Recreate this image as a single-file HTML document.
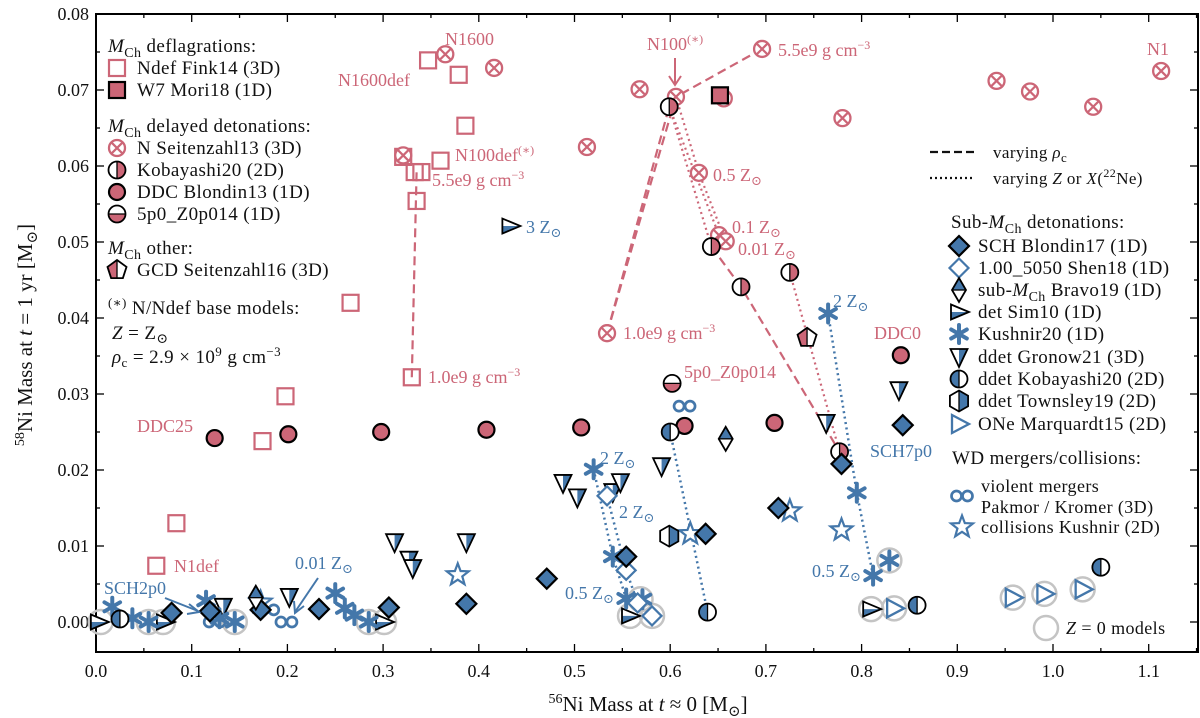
<!DOCTYPE html>
<html><head><meta charset="utf-8">
<style>
html,body{margin:0;padding:0;background:#fff;}
svg{display:block;font-family:"Liberation Serif","DejaVu Serif",serif;}
.pk{fill:#cc6677;}
.bl{fill:#4477aa;}
#annot text{font-size:18px;}
</style></head>
<body>
<svg id="chart" width="1200" height="718" viewBox="0 0 1200 718" xmlns="http://www.w3.org/2000/svg">
<defs id="defs"></defs>
<g id="frame"></g>
<g id="lines"></g>
<g id="marks"></g>
<g id="annot">
<text x="445" y="45" class="pk">N1600</text>
<text x="338" y="86" class="pk">N1600def</text>
<text x="455" y="161" class="pk">N100def<tspan dy="-7" font-size="12">(∗)</tspan></text>
<text x="432" y="186" class="pk">5.5e9 g cm<tspan dy="-7" font-size="12">−3</tspan></text>
<text x="428" y="383" class="pk">1.0e9 g cm<tspan dy="-7" font-size="12">−3</tspan></text>
<text x="647" y="50" class="pk">N100<tspan dy="-7" font-size="12">(∗)</tspan></text>
<line x1="675" y1="58" x2="675" y2="84" stroke="#cc6677" stroke-width="2"/>
<path d="M669 76 L675 85 L681 76" fill="none" stroke="#cc6677" stroke-width="2"/>
<text x="778" y="56" class="pk">5.5e9 g cm<tspan dy="-7" font-size="12">−3</tspan></text>
<text x="713" y="181" class="pk">0.5 Z<tspan dy="4" font-size="13">⊙</tspan></text>
<text x="732" y="233" class="pk">0.1 Z<tspan dy="4" font-size="13">⊙</tspan></text>
<text x="738" y="255" class="pk">0.01 Z<tspan dy="4" font-size="13">⊙</tspan></text>
<text x="623" y="339" class="pk">1.0e9 g cm<tspan dy="-7" font-size="12">−3</tspan></text>
<text x="684" y="378" class="pk">5p0_Z0p014</text>
<text x="874" y="339" class="pk">DDC0</text>
<text x="1147" y="55" class="pk">N1</text>
<text x="137" y="432" class="pk">DDC25</text>
<text x="174" y="572" class="pk">N1def</text>
<text x="526" y="233" class="bl">3 Z<tspan dy="4" font-size="13">⊙</tspan></text>
<text x="833" y="307" class="bl">2 Z<tspan dy="4" font-size="13">⊙</tspan></text>
<text x="870" y="457" class="bl">SCH7p0</text>
<text x="104" y="594" class="bl">SCH2p0</text>
<path d="M165 598 L198 611" stroke="#4477aa" stroke-width="2" fill="none"/>
<path d="M189 604 L199 612 L187 614" stroke="#4477aa" stroke-width="2" fill="none"/>
<text x="295" y="569" class="bl">0.01 Z<tspan dy="4" font-size="13">⊙</tspan></text>
<path d="M318 578 L295 612" stroke="#4477aa" stroke-width="2" fill="none"/>
<path d="M294 601 L295 613 L304 606" stroke="#4477aa" stroke-width="2" fill="none"/>
<text x="600" y="464" class="bl">2 Z<tspan dy="4" font-size="13">⊙</tspan></text>
<text x="619" y="518" class="bl">2 Z<tspan dy="4" font-size="13">⊙</tspan></text>
<text x="565" y="599" class="bl">0.5 Z<tspan dy="4" font-size="13">⊙</tspan></text>
<text x="812" y="577" class="bl">0.5 Z<tspan dy="4" font-size="13">⊙</tspan></text>
</g>
<g id="legend" font-size="19" fill="#111"></g>
</svg>
<script>
// ---- data ----
const ndefX=[0.347,0.379,0.386,0.321,0.333,0.340,0.360,0.335,0.330,0.266,0.198,0.174,0.084,0.063];
const ndefY=[0.0739,0.0720,0.0653,0.0612,0.0592,0.0592,0.0607,0.0554,0.0322,0.0420,0.0297,0.0238,0.0130,0.0074];
const w7X=[0.652], w7Y=[0.0693];
const nX=[0.365,0.416,0.321,0.696,0.568,0.606,0.513,0.780,0.630,0.651,0.658,0.534,0.656,0.941,0.976,1.042,1.113];
const nY=[0.0747,0.0729,0.0614,0.0754,0.0701,0.0691,0.0625,0.0663,0.0591,0.0509,0.0501,0.0380,0.0689,0.0712,0.0698,0.0678,0.0725];
const kobX=[0.599,0.643,0.674,0.725,0.777], kobY=[0.0678,0.0494,0.0441,0.0460,0.0224];
const ddcX=[0.124,0.201,0.298,0.408,0.507,0.615,0.709,0.841], ddcY=[0.0242,0.0247,0.0250,0.0253,0.0256,0.0258,0.0262,0.0351];
const p5X=[0.602], p5Y=[0.0314];
const gcdX=[0.743], gcdY=[0.0374];
const schX=[0.079,0.119,0.172,0.233,0.306,0.387,0.471,0.554,0.637,0.713,0.779,0.843];
const schY=[0.0012,0.0014,0.0016,0.0017,0.0019,0.0024,0.0057,0.0086,0.0116,0.0150,0.0208,0.0259];
const shenX=[0.534,0.554,0.566,0.581], shenY=[0.0166,0.0068,0.0025,0.0008];
const bravoX=[0.167,0.658], bravoY=[0.0032,0.0241];
const simX=[0.003,0.072,0.301,0.558,0.810,0.433], simY=[0,0,0,0.0008,0.0017,0.0521];
const kushX=[0.017,0.038,0.055,0.115,0.129,0.145,0.250,0.260,0.270,0.285,0.520,0.540,0.554,0.571,0.765,0.795,0.812,0.829];
const kushY=[0.0020,0.0005,0,0.0028,0.0005,0,0.0038,0.0018,0.0009,0,0.0201,0.0086,0.0031,0.0030,0.0406,0.0170,0.0061,0.0081];
const gronX=[0.133,0.202,0.312,0.327,0.331,0.387,0.488,0.503,0.540,0.548,0.591,0.763,0.839];
const gronY=[0.0020,0.0033,0.0105,0.0082,0.0071,0.0105,0.0183,0.0164,0.0171,0.0184,0.0205,0.0262,0.0305];
const kobBX=[0.025,0.600,0.639,0.858,1.050], kobBY=[0.0004,0.0250,0.0013,0.0022,0.0072];
const townX=[0.599], townY=[0.0113];
const oneX=[0.834,0.958,0.991,1.031], oneY=[0.0018,0.0032,0.0037,0.0043];
const vmX=[0.124,0.180,0.199,0.615], vmY=[0.0000,0.0016,0.0000,0.0284];
const colX=[0.172,0.378,0.621,0.725,0.779], colY=[0.0026,0.0062,0.0116,0.0146,0.0121];
const z0X=[0.005,0.055,0.070,0.145,0.285,0.301,0.558,0.569,0.581,0.810,0.834,0.829,0.958,0.991,1.031];
const z0Y=[0,0,0,0,0,0,0.0008,0.003,0.0008,0.0017,0.0018,0.0081,0.0032,0.0037,0.0043];
// lines
const lnNdefX=[0.330,0.335], lnNdefY=[0.0322,0.0592];
const lnNX=[0.534,0.606,0.696], lnNY=[0.0380,0.0691,0.0754];
const lnKobX=[0.534,0.599], lnKobY=[0.0380,0.0678];
const lnKob2X=[0.643,0.674,0.777], lnKob2Y=[0.0494,0.0441,0.0224];
const dtN1X=[0.606,0.630,0.658], dtN1Y=[0.0691,0.0591,0.0501];
const dtN2X=[0.599,0.651], dtN2Y=[0.0678,0.0509];
const dtKobX=[0.599,0.643], dtKobY=[0.0678,0.0494];
const dtKob3X=[0.725,0.777], dtKob3Y=[0.0460,0.0224];
const dtB1X=[0.765,0.795,0.812], dtB1Y=[0.0406,0.0170,0.0061];
const dtB2X=[0.520,0.540,0.554], dtB2Y=[0.0201,0.0086,0.0031];
const dtB3X=[0.534,0.554,0.566], dtB3Y=[0.0166,0.0068,0.0025];
const dtB4X=[0.600,0.639], dtB4Y=[0.0250,0.0013];
const xTicks=["0.0","0.1","0.2","0.3","0.4","0.5","0.6","0.7","0.8","0.9","1.0","1.1"];
const yTicks=["0.00","0.01","0.02","0.03","0.04","0.05","0.06","0.07","0.08"];

// ---- scales ----
const L=96,R=1198,T=14,B=652;
const X=v=>L+v*957, Y=v=>622-v*7600;
const NS="http://www.w3.org/2000/svg";
const PK="#cc6677", BL="#4477aa";
let cid=0;
function el(tag,attrs,parent){const e=document.createElementNS(NS,tag);for(const k in attrs)e.setAttribute(k,attrs[k]);parent.appendChild(e);return e;}
const frame=document.getElementById('frame'), marks=document.getElementById('marks'), lines=document.getElementById('lines'), defs=document.getElementById('defs'), leg=document.getElementById('legend');

// frame & ticks
el('rect',{x:L,y:T,width:R-L,height:B-T,fill:'none',stroke:'#000','stroke-width':2},frame);
for(let i=0;i<=23;i++){const v=i*0.05;const px=X(v);if(px>R)break;const len=i%2?4:8;
 el('line',{x1:px,y1:B,x2:px,y2:B-len,stroke:'#000','stroke-width':1.3},frame);
 el('line',{x1:px,y1:T,x2:px,y2:T+len,stroke:'#000','stroke-width':1.3},frame);}
xTicks.forEach((t,i)=>{const tx=el('text',{x:X(i*0.1),y:677,'text-anchor':'middle','font-size':18,fill:'#111'},frame);tx.textContent=t;
 
 });
for(let i=-0;i<=16;i++){const py=Y(i*0.005);const len=i%2?4:8;
 el('line',{x1:L,y1:py,x2:L+len,y2:py,stroke:'#000','stroke-width':1.3},frame);
 el('line',{x1:R,y1:py,x2:R-len,y2:py,stroke:'#000','stroke-width':1.3},frame);}
yTicks.forEach((t,i)=>{const tx=el('text',{x:89,y:Y(i*0.01)+6,'text-anchor':'end','font-size':18,fill:'#111'},frame);tx.textContent=t;
 
 });
{const t=el('text',{x:648,y:711,'text-anchor':'middle','font-size':21,fill:'#111'},frame);
 t.innerHTML='<tspan dy="-8" font-size="14">56</tspan><tspan dy="8">Ni Mass at </tspan><tspan font-style="italic">t</tspan> ≈ 0 [M<tspan dy="5" font-size="15">⊙</tspan><tspan dy="-5">]</tspan>';
 
 
 const u=el('text',{x:0,y:0,'text-anchor':'middle','font-size':21,fill:'#111',transform:'translate(32,335) rotate(-90)'},frame);
 u.innerHTML='<tspan dy="-8" font-size="14">58</tspan><tspan dy="8">Ni Mass at </tspan><tspan font-style="italic">t</tspan> = 1 yr [M<tspan dy="5" font-size="15">⊙</tspan><tspan dy="-5">]</tspan>';
 
 }

// lines
function poly(xs,ys,color,dash,w){const pts=xs.map((x,i)=>X(x)+','+Y(ys[i])).join(' ');
 const p=el('polyline',{points:pts,fill:'none',stroke:color,'stroke-width':w||2.2,'stroke-dasharray':dash},lines);
 
 }
const DASH='9,5', DOT='2,3.5';
poly(lnNdefX,lnNdefY,PK,DASH);poly(lnNX,lnNY,PK,DASH);poly(lnKobX,lnKobY,PK,DASH);poly(lnKob2X,lnKob2Y,PK,DASH);
poly(dtN1X,dtN1Y,PK,DOT);poly(dtN2X,dtN2Y,PK,DOT);poly(dtKobX,dtKobY,PK,DOT);poly(dtKob3X,dtKob3Y,PK,DOT);
poly(dtB1X,dtB1Y,BL,DOT,2.5);poly(dtB2X,dtB2Y,BL,DOT,2.5);poly(dtB3X,dtB3Y,BL,DOT,2.5);poly(dtB4X,dtB4Y,BL,DOT,2.5);

// shape helpers
function circD(cx,cy,r){return `M${cx-r} ${cy} a${r} ${r} 0 1 0 ${2*r} 0 a${r} ${r} 0 1 0 ${-2*r} 0Z`;}
function polyD(pts){return 'M'+pts.map(p=>p[0]+' '+p[1]).join(' L')+'Z';}
function regD(cx,cy,r,n,a0){const p=[];for(let k=0;k<n;k++){const a=a0+k*2*Math.PI/n;p.push([cx+r*Math.cos(a),cy+r*Math.sin(a)]);}return polyD(p);}
function half(g,d,cx,cy,side,color,divider){
 el('path',{d:d,fill:'#fff'},g);
 const id='c'+(cid++);const cp=el('clipPath',{id:id},defs);
 let r={x:cx-20,y:cy-20,width:40,height:40};
 if(side==='L')r={x:cx-20,y:cy-20,width:20,height:40};
 if(side==='R')r={x:cx,y:cy-20,width:20,height:40};
 if(side==='T')r={x:cx-20,y:cy-20,width:40,height:20};
 if(side==='B')r={x:cx-20,y:cy,width:40,height:20};
 el('rect',r,cp);
 el('path',{d:d,fill:color,'clip-path':`url(#${id})`},g);
 if(divider){if(side==='L'||side==='R')el('line',{x1:cx,y1:cy-divider,x2:cx,y2:cy+divider,stroke:'#000','stroke-width':1.3},g);
  else el('line',{x1:cx-divider,y1:cy,x2:cx+divider,y2:cy,stroke:'#000','stroke-width':1.3},g);}
 el('path',{d:d,fill:'none',stroke:'#000','stroke-width':1.8},g);}
function mk(type,cx,cy,parent){
 const g=el('g',{},parent);
 switch(type){
 case 'z0':el('circle',{cx,cy,r:12,fill:'none',stroke:'#c4c4c4','stroke-width':2.5},g);break;
 case 'sqO':el('rect',{x:cx-8,y:cy-8,width:16,height:16,fill:'none',stroke:PK,'stroke-width':2.2},g);break;
 case 'sqF':el('rect',{x:cx-8,y:cy-8,width:16,height:16,fill:PK,stroke:'#000','stroke-width':2.2},g);break;
 case 'otimes':el('circle',{cx,cy,r:8,fill:'#fff',stroke:PK,'stroke-width':2.3},g);
  el('path',{d:`M${cx-5.3} ${cy-5.3}L${cx+5.3} ${cy+5.3}M${cx+5.3} ${cy-5.3}L${cx-5.3} ${cy+5.3}`,stroke:PK,'stroke-width':2.2},g);break;
 case 'kob':half(g,circD(cx,cy,8.5),cx,cy,'R',PK,8.5);break;
 case 'kobB':half(g,circD(cx,cy,8.5),cx,cy,'L',BL,8.5);break;
 case 'p5':half(g,circD(cx,cy,8.5),cx,cy,'B',PK,8.5);break;
 case 'ddc':el('circle',{cx,cy,r:8,fill:PK,stroke:'#000','stroke-width':2.2},g);break;
 case 'gcd':half(g,regD(cx,cy,10,5,-Math.PI/2),cx,cy,'L',PK,9);break;
 case 'sch':el('path',{d:polyD([[cx,cy-10],[cx+10,cy],[cx,cy+10],[cx-10,cy]]),fill:BL,stroke:'#000','stroke-width':2.2},g);break;
 case 'shen':el('path',{d:polyD([[cx,cy-9.5],[cx+9.5,cy],[cx,cy+9.5],[cx-9.5,cy]]),fill:'#fff',stroke:BL,'stroke-width':2.2},g);break;
 case 'bravo':half(g,polyD([[cx,cy-12],[cx+7,cy],[cx,cy+12],[cx-7,cy]]),cx,cy,'T',BL,7);break;
 case 'sim':half(g,polyD([[cx-8,cy-7.5],[cx+10,cy],[cx-8,cy+7.5]]),cx,cy,'B',BL,0);break;
 case 'kush':['M0 -9L0 9','M-7.8 -4.5L7.8 4.5','M7.8 -4.5L-7.8 4.5'].forEach(d=>el('path',{d,transform:`translate(${cx},${cy})`,stroke:BL,'stroke-width':4,'stroke-linecap':'round'},g));break;
 case 'gron':half(g,polyD([[cx-8.5,cy-8],[cx+8.5,cy-8],[cx,cy+10]]),cx,cy,'R',BL,0);break;
 case 'town':half(g,regD(cx,cy,10.5,6,-Math.PI/2),cx,cy,'R',BL,10);break;
 case 'one':el('path',{d:polyD([[cx-7,cy-9],[cx+10,cy],[cx-7,cy+9]]),fill:'none',stroke:BL,'stroke-width':2.3},g);break;
 case 'vm':el('circle',{cx:cx-5.5,cy,r:5,fill:'none',stroke:BL,'stroke-width':2.7},g);el('circle',{cx:cx+5.5,cy,r:5,fill:'none',stroke:BL,'stroke-width':2.7},g);break;
 case 'col':{const p=[];for(let k=0;k<10;k++){const a=-Math.PI/2+k*Math.PI/5;const r=k%2?4.8:11.5;p.push([cx+r*Math.cos(a),cy+r*Math.sin(a)]);}
  el('path',{d:polyD(p),fill:'#fff',stroke:BL,'stroke-width':2.2,'stroke-linejoin':'miter'},g);break;}
 }
 return g;}
function series(type,xs,ys,name){xs.forEach((x,i)=>{const g=mk(type,X(x),Y(ys[i]),marks);
 
 });}
series('z0',z0X,z0Y,'z0-model-ring');
series('sqO',ndefX,ndefY,'ndef-fink14-point');
series('otimes',nX,nY,'n-seitenzahl13-point');
series('sqF',w7X,w7Y,'w7-mori18-point');
series('kob',kobX,kobY,'kobayashi20-point');
series('ddc',ddcX,ddcY,'ddc-blondin13-point');
series('p5',p5X,p5Y,'5p0-z0p014-point');
series('gcd',gcdX,gcdY,'gcd-seitenzahl16-point');
series('gron',gronX,gronY,'ddet-gronow21-point');
series('vm',vmX,vmY,'violent-merger-point');
series('col',colX,colY,'collision-kushnir-point');
series('sim',simX,simY,'det-sim10-point');
series('kush',kushX,kushY,'kushnir20-point');
series('shen',shenX,shenY,'shen18-point');
series('sch',schX,schY,'sch-blondin17-point');
series('bravo',bravoX,bravoY,'bravo19-point');
series('kobB',kobBX,kobBY,'ddet-kobayashi20-point');
series('town',townX,townY,'ddet-townsley19-point');
series('one',oneX,oneY,'one-marquardt15-point');

// legend
function ltext(x,y,html,size){const t=el('text',{x,y,'font-size':size||19,fill:'#111','letter-spacing':'0.4'},leg);t.innerHTML=html;
 
 return t;}
const MCH='<tspan font-style="italic">M</tspan><tspan dy="5" font-size="14">Ch</tspan><tspan dy="-5"> </tspan>';
ltext(108,52,MCH+'deflagrations:');
[['sqO',68,'Ndef Fink14 (3D)'],['sqF',90,'W7 Mori18 (1D)'],['otimes',148,'N Seitenzahl13 (3D)'],['kob',170,'Kobayashi20 (2D)'],['ddc',192,'DDC Blondin13 (1D)'],['p5',214,'5p0_Z0p014 (1D)'],['gcd',270,'GCD Seitenzahl16 (3D)']].forEach(r=>{
 const g=mk(r[0],117,r[1],leg);
 
 
 ltext(137,r[1]+6,r[2]);});
ltext(108,132,MCH+'delayed detonations:');
ltext(108,254,MCH+'other:');
ltext(108,314,'<tspan dy="-7" font-size="13">(∗)</tspan><tspan dy="7"> N/Ndef base models:</tspan>');
ltext(112,339,'<tspan font-style="italic">Z</tspan> = Z<tspan dy="4" font-size="14">⊙</tspan>');
ltext(112,363,'<tspan font-style="italic">ρ</tspan><tspan dy="4" font-size="13">c</tspan><tspan dy="-4"> = 2.9 × 10</tspan><tspan dy="-7" font-size="13">9</tspan><tspan dy="7"> g cm</tspan><tspan dy="-7" font-size="13">−3</tspan>');
el('line',{x1:930,y1:152,x2:975,y2:152,stroke:'#111','stroke-width':2.3,'stroke-dasharray':'8,4'},leg);
el('line',{x1:930,y1:178,x2:975,y2:178,stroke:'#111','stroke-width':2.3,'stroke-dasharray':'2,3'},leg);
ltext(993,158,'varying <tspan font-style="italic">ρ</tspan><tspan dy="4" font-size="13">c</tspan>',17);
ltext(993,184,'varying <tspan font-style="italic">Z</tspan> or <tspan font-style="italic">X</tspan>(<tspan dy="-7" font-size="12">22</tspan><tspan dy="7">Ne)</tspan>',17);
ltext(951,228,'Sub-'+MCH+'detonations:');
[['sch',246,'SCH Blondin17 (1D)'],['shen',268,'1.00_5050 Shen18 (1D)'],['bravo',290,'sub-'+MCH+'Bravo19 (1D)'],['sim',312,'det Sim10 (1D)'],['kush',334,'Kushnir20 (1D)'],['gron',357,'ddet Gronow21 (3D)'],['kobB',379,'ddet Kobayashi20 (2D)'],['town',401,'ddet Townsley19 (2D)'],['one',424,'ONe Marquardt15 (2D)']].forEach(r=>{
 const g=mk(r[0],959,r[1],leg);
 
 
 ltext(978,r[1]+6,r[2]);});
ltext(952,464,'WD mergers/collisions:');
{const g=mk('vm',962,496,leg);
 
 
 const h=mk('col',962,527,leg);
 
 
 const z=mk('z0',1046,628,leg);
 
 }
ltext(981,492,'violent mergers',18);
ltext(981,513,'Pakmor / Kromer (3D)',18);
ltext(981,533,'collisions Kushnir (2D)',18);
ltext(1066,634,'<tspan font-style="italic">Z</tspan> = 0 models',18);
</script>
</body></html>
